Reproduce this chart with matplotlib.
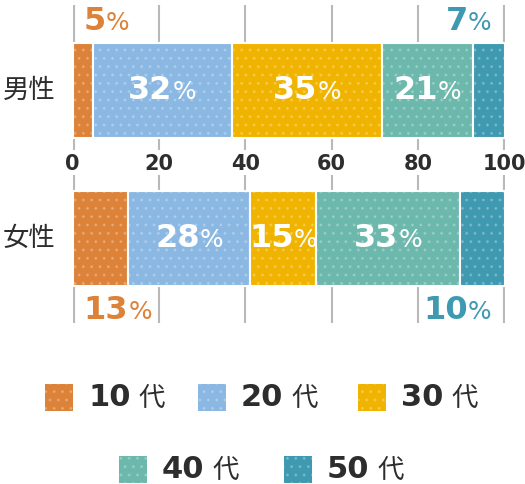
import matplotlib
matplotlib.use('Agg')
import matplotlib.pyplot as plt
from matplotlib.offsetbox import TextArea, HPacker, AnnotationBbox
from matplotlib.patches import Rectangle

# ---- data ----
groups = ['男性', '女性']
age_nums = ['10', '20', '30', '40', '50']
age_suffix = '代'
male = [4.7, 32.2, 34.7, 21.1, 7.3]
female = [12.9, 28.3, 15.2, 33.3, 10.3]
series = [male, female]
colors = ['#DD8239', '#8BB8E2', '#F0B400', '#6DB8AC', '#3F9AB1']
ticks = [0, 20, 40, 60, 80, 100]

TXT = '#2d2d2d'
GRID = '#b9b9b9'
NUMFONT = ['DejaVu Sans']
CJK = ['Noto Sans CJK JP', 'DejaVu Sans']

fig = plt.figure(figsize=(5.25, 4.84), dpi=100)
ax = fig.add_axes([72.5 / 525, 1 - 323 / 484, 432 / 525, 318 / 484])
ax.set_xlim(0, 100)
ax.set_ylim(1.576, -0.58)
ax.axis('off')

# grid lines (two segments around the tick labels)
lws = [3 if t in (0, 100) else 1.5 for t in ticks]
ax.vlines(ticks, -0.58, 0.405, colors=GRID, linewidths=lws, zorder=1)
ax.vlines(ticks, 0.57, 1.576, colors=GRID, linewidths=lws, zorder=1)
for t in ticks:
    ax.text(t, 0.497, str(t), ha='center', va='center', fontsize=15,
            fontweight='bold', family=NUMFONT, color=TXT)

BAR_H = 0.644


def pct_label(x, y, val, color, size, halign):
    box = HPacker(children=[
        TextArea(f'{val}', textprops=dict(fontsize=size, fontweight='bold',
                                          color=color, family=NUMFONT)),
        TextArea('%', textprops=dict(fontsize=size * 0.78, color=color,
                                     family=NUMFONT))],
        align='baseline', pad=0, sep=0)
    ab = AnnotationBbox(box, (x, y), xycoords='data', frameon=False,
                        box_alignment=(halign, 0.5), pad=0, zorder=5)
    ax.add_artist(ab)


for gi, (name, vals) in enumerate(zip(groups, series)):
    left = 0
    n = len(vals)
    for i, v in enumerate(vals):
        ax.barh(gi, v, left=left, height=BAR_H, color=colors[i],
                edgecolor='white', linewidth=1.5, zorder=2)
        ax.barh(gi, v, left=left, height=BAR_H, color='none',
                edgecolor=(1, 1, 1, 0.2), hatch='..', linewidth=0, zorder=3)
        pct = round(v)
        if i == 0 or i == n - 1:
            ypos = -0.47 if gi == 0 else 1.49
            if i == 0:
                pct_label(left + 2.6, ypos, pct, colors[i], 23, 0)
            else:
                pct_label(left + v - 3.0, ypos, pct, colors[i], 23, 1)
        else:
            pct_label(left + v / 2, gi, pct, 'white', 23, 0.5)
        left += v
    ax.text(-4.0, gi, name, ha='right', va='center', fontsize=19,
            family=CJK, color=TXT)

# ---- legend ----
ov = fig.add_axes([0, 0, 1, 1])
ov.set_xlim(0, 525)
ov.set_ylim(484, 0)
ov.axis('off')
rows = [[0, 1, 2], [3, 4]]
row_y = [397, 469]
row_x = [[45, 198, 358], [119, 284]]
for r, idxs in enumerate(rows):
    for k, i in enumerate(idxs):
        x0 = row_x[r][k]
        y0 = row_y[r]
        ov.add_patch(Rectangle((x0, y0 - 13.5), 27.5, 27.5, facecolor=colors[i],
                               edgecolor='none'))
        ov.add_patch(Rectangle((x0, y0 - 13.5), 27.5, 27.5, facecolor='none',
                               edgecolor=(1, 1, 1, 0.2), hatch='..', linewidth=0))
        box = HPacker(children=[
            TextArea(age_nums[i], textprops=dict(fontsize=22, fontweight='bold',
                                                 color=TXT, family=NUMFONT)),
            TextArea(age_suffix, textprops=dict(fontsize=19, color=TXT,
                                                family=CJK))],
            align='baseline', pad=0, sep=6)
        ov.add_artist(AnnotationBbox(box, (x0 + 43, y0), xycoords='data',
                                     frameon=False, box_alignment=(0, 0.5),
                                     pad=0))

fig.savefig('out.png', dpi=100)
